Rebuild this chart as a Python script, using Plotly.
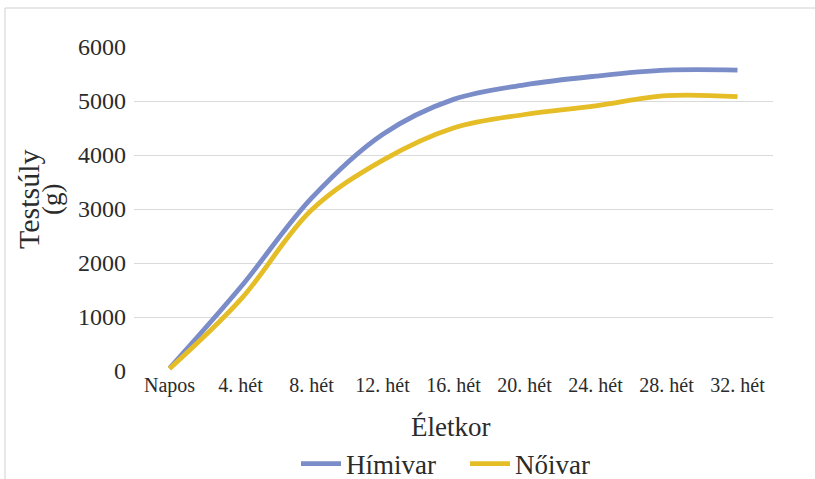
import plotly.graph_objects as go

# Body weight (g) by age
eletkor = ["Napos", "4. hét", "8. hét", "12. hét", "16. hét",
           "20. hét", "24. hét", "28. hét", "32. hét"]
himivar = [50, 1550, 3200, 4380, 5030, 5300, 5460, 5570, 5570]
noivar = [40, 1320, 2980, 3900, 4500, 4750, 4910, 5100, 5080]

W, H = 815, 479
L, R, T, B = 134, 42, 47, 108
pw, ph = W - L - R, H - T - B

SERIF = "Liberation Serif, Times New Roman, serif"
TXT = "#2b2b2b"


def px_x(v):
    return (v - L) / pw


def px_y(v):
    return (T + ph - v) / ph


fig = go.Figure()
fig.add_trace(go.Scatter(
    x=eletkor, y=himivar, name="Hímivar", mode="lines",
    line=dict(color="#7b8dc9", width=4.8, shape="spline", smoothing=1.0),
))
fig.add_trace(go.Scatter(
    x=eletkor, y=noivar, name="Nőivar", mode="lines",
    line=dict(color="#e5bd26", width=4.8, shape="spline", smoothing=1.0),
))

fig.update_layout(
    width=W, height=H,
    margin=dict(l=L, r=R, t=T, b=B, autoexpand=False),
    paper_bgcolor="white", plot_bgcolor="white",
    font=dict(family=SERIF, color=TXT),
    showlegend=True,
    legend=dict(
        orientation="h", x=296 / W, xanchor="left", xref="container",
        y=1 - 464 / H, yanchor="middle", yref="container",
        bgcolor="rgba(0,0,0,0)",
        font=dict(size=27, family=SERIF, color=TXT),
        itemwidth=40, tracegroupgap=0,
        entrywidth=114, entrywidthmode="pixels",
    ),
    xaxis=dict(
        type="category", range=[-0.5, len(eletkor) - 0.5],
        showgrid=False, zeroline=False, automargin=False,
        showline=False, ticks="",
        tickfont=dict(size=20, family=SERIF, color=TXT),
    ),
    yaxis=dict(
        range=[0, 6000], dtick=1000, showgrid=True,
        gridcolor="#dadada", gridwidth=1, zeroline=False,
        showline=False, ticks="", ticklabelstandoff=7, automargin=False,
        tickfont=dict(size=24, family=SERIF, color=TXT),
    ),
    annotations=[
        dict(text="Életkor", xref="paper", yref="paper",
             x=px_x(450), y=px_y(427), xanchor="center",
             yanchor="middle", showarrow=False,
             font=dict(size=27, family=SERIF, color=TXT)),
        dict(text="Testsúly", xref="paper", yref="paper",
             x=px_x(28), y=px_y(199),
             xanchor="center", yanchor="middle", textangle=-90,
             showarrow=False,
             font=dict(size=30, family=SERIF, color=TXT)),
        dict(text="(g)", xref="paper", yref="paper",
             x=px_x(52), y=px_y(200),
             xanchor="center", yanchor="middle", textangle=-90,
             showarrow=False,
             font=dict(size=27, family=SERIF, color=TXT)),
    ],
    shapes=[
        dict(type="rect", xref="paper", yref="paper",
             x0=px_x(5), x1=px_x(W + 2),
             y0=px_y(H + 2), y1=px_y(8),
             line=dict(color="#d0d0d0", width=1), layer="below"),
    ],
)

fig.write_html("out.html")
